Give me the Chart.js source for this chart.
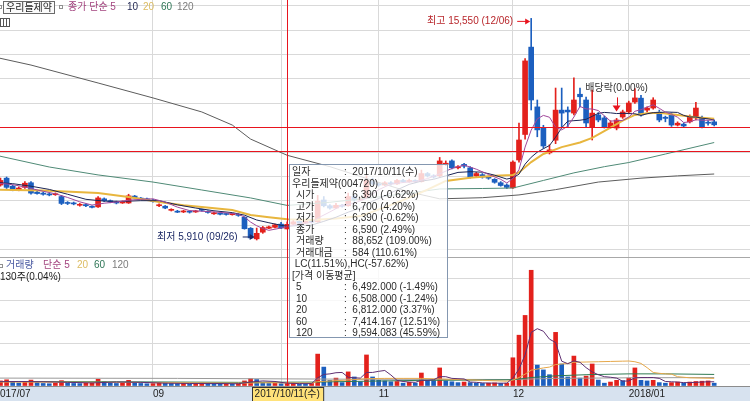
<!DOCTYPE html>
<html lang="ko">
<head>
<meta charset="utf-8">
<title>우리들제약 일봉</title>
<script src="https://cdn.jsdelivr.net/npm/chart.js@4.4.1/dist/chart.umd.min.js"></script>
<style>
  html, body { margin: 0; padding: 0; background: #fff; }
  #wrap { position: relative; width: 750px; height: 401px; overflow: hidden;
          font-family: 'Liberation Sans', 'Noto Sans CJK KR', sans-serif; font-size: 10px; }
  canvas { position: absolute; left: 0; }
  #priceChart { top: 0; }
  #volChart { top: 257px; }
  .lab { position: absolute; white-space: nowrap; line-height: 12px; }
  .sq { position: absolute; width: 2px; height: 2px; border: 1px solid #909090; background: #fff; }
  #name { position: absolute; left: 3px; top: 1px; height: 11px; line-height: 11px; padding: 0 2px;
          border: 1px solid #6a6a6a; color: #222; background: #fafafa; }
  #gridIcon { position: absolute; left: 0; top: 18px; width: 8px; height: 7px; border: 1px solid #555;
          background: repeating-linear-gradient(90deg, #fff 0, #fff 2px, #555 2px, #555 3px); }
  #tip { position: absolute; left: 289px; top: 164px; width: 159px; height: 174px; box-sizing: border-box;
         border: 1px solid #8497b0; background: rgba(255,255,255,0.8); color: #2b2b2b;
         padding: 1px 0 0 2px; line-height: 11.5px; white-space: nowrap; }
  #tip span { display: inline-block; width: 52px; }
  #tip span.in { width: 48px; padding-left: 4px; }
</style>
</head>
<body>
<div id="wrap">
  <canvas id="priceChart" width="750" height="257"></canvas>
  <canvas id="volChart" width="750" height="144"></canvas>

  <div class="sq" style="left:-2px;top:5px"></div>
  <div id="name">우리들제약</div>
  <div class="sq" style="left:59px;top:5px"></div>
  <div class="lab" style="left:68px;top:1px;color:#a3447f">종가 단순 5</div>
  <div class="lab" style="left:127px;top:1px;color:#1f2550">10</div>
  <div class="lab" style="left:143px;top:1px;color:#dcbc62">20</div>
  <div class="lab" style="left:161px;top:1px;color:#2e7656">60</div>
  <div class="lab" style="left:177px;top:1px;color:#7c7c7c">120</div>
  <div id="gridIcon"></div>

  <div class="sq" style="left:-1px;top:264px"></div>
  <div class="lab" style="left:6px;top:259px;color:#4858a0">거래량</div>
  <div class="lab" style="left:43px;top:259px;color:#a3447f">단순 5</div>
  <div class="lab" style="left:77px;top:259px;color:#dcbc62">20</div>
  <div class="lab" style="left:94px;top:259px;color:#2e7656">60</div>
  <div class="lab" style="left:112px;top:259px;color:#7c7c7c">120</div>
  <div class="lab" style="left:0;top:271px;color:#222">130주(0.04%)</div>

  <div id="tip">
    <div><span>일자</span>:&nbsp; 2017/10/11(수)</div>
    <div>우리들제약(004720)</div>
    <div><span class="in">시가</span>:&nbsp; 6,390 (-0.62%)</div>
    <div><span class="in">고가</span>:&nbsp; 6,700 (4.20%)</div>
    <div><span class="in">저가</span>:&nbsp; 6,390 (-0.62%)</div>
    <div><span class="in">종가</span>:&nbsp; 6,590 (2.49%)</div>
    <div><span class="in">거래량</span>:&nbsp; 88,652 (109.00%)</div>
    <div><span class="in">거래대금</span>:&nbsp; 584 (110.61%)</div>
    <div>&nbsp;LC(11.51%),HC(-57.62%)</div>
    <div>[가격 이동평균]</div>
    <div><span class="in">5</span>:&nbsp; 6,492.000 (-1.49%)</div>
    <div><span class="in">10</span>:&nbsp; 6,508.000 (-1.24%)</div>
    <div><span class="in">20</span>:&nbsp; 6,812.000 (3.37%)</div>
    <div><span class="in">60</span>:&nbsp; 7,414.167 (12.51%)</div>
    <div><span class="in">120</span>:&nbsp; 9,594.083 (45.59%)</div>
  </div>
</div>

<script>
// trading days shown (KRX calendar)
var months = ['2017/07', '2017/08', '2017/09', '2017/10', '2017/11', '2017/12', '2018/01']
var julDays = [26, 27, 28, 31]
var augDays = [1, 2, 3, 4, 7, 8, 9, 10, 11, 14, 16, 17, 18, 21, 22, 23, 24, 25, 28, 29, 30, 31]
var sepDays = [1, 4, 5, 6, 7, 8, 11, 12, 13, 14, 15, 18, 19, 20, 21, 22, 25, 26, 27, 28, 29]
var octDays = [10, 11, 12, 13, 16, 17, 18, 19, 20, 23, 24, 25, 26, 27, 30, 31]
var novDays = [1, 2, 3, 6, 7, 8, 9, 10, 13, 14, 15, 16, 17, 20, 21, 22, 23, 24, 27, 28, 29, 30]
var decDays = [1, 4, 5, 6, 7, 8, 11, 12, 13, 14, 15, 18, 19, 20, 21, 22, 26, 27, 28]
var janDays = [2, 3, 4, 5, 8, 9, 10, 11, 12, 15, 16, 17, 18, 19, 22]

var opens = [8350, 8300, 8600, 8250, 8100, 8200, 8400, 7990, 7950, 7900,
    7880, 7800, 7540, 7520, 7420, 7450, 7380, 7350, 7700, 7620,
    7560, 7520, 7520, 7820, 7720, 7700, 7650, 7400, 7380, 7200,
    7160, 7130, 7150, 7130, 7220, 7160, 7050, 7060, 7040, 7010,
    7020, 6900, 6420, 5960, 6250, 6420, 6460, 6600, 6390, 6600,
    6720, 6650, 6720, 6700, 7650, 7400, 7300, 7420, 7400, 7800,
    7650, 7750, 8500, 8350, 8300, 8400, 8350, 8500, 8450, 8500,
    8450, 8800, 8700, 8700, 9200, 9350, 9050, 9200, 9050, 8700,
    8750, 8650, 8550, 8400, 8300, 8180, 9390, 10500, 14300, 11700,
    10780, 9700, 10250, 11560, 11560, 11430, 12250, 12000, 10830, 11350,
    11220, 10830, 10780, 11260, 11480, 11910, 12080, 11560, 11650, 11470,
    11250, 11350, 10910, 10950, 11050, 11220, 11220, 11000, 11050]
var highs = [8450, 8600, 8650, 8300, 8220, 8450, 8450, 8050, 8000, 7950,
    7960, 7850, 7580, 7560, 7500, 7480, 7400, 7800, 7740, 7650,
    7600, 7610, 7900, 7850, 7760, 7730, 7680, 7480, 7410, 7270,
    7200, 7200, 7180, 7200, 7250, 7180, 7120, 7090, 7070, 7070,
    7050, 6920, 6450, 6430, 6500, 6520, 6600, 6680, 6700, 6780,
    6760, 6780, 6750, 7850, 7800, 7450, 7500, 7460, 7950, 7850,
    7750, 8700, 8600, 8400, 8450, 8450, 8550, 8550, 8560, 8530,
    8950, 8850, 8750, 9500, 9350, 9400, 9150, 9250, 9100, 8850,
    8800, 8700, 8580, 8450, 8350, 9350, 11000, 13800, 15550, 12000,
    10900, 10050, 12520, 12520, 11700, 12960, 12520, 12130, 12430, 11450,
    11300, 11100, 11200, 11560, 11950, 12500, 12200, 11700, 12100, 11560,
    11300, 11450, 11050, 11000, 11350, 11900, 11300, 11100, 11130]
var lows = [8250, 8250, 8150, 8050, 8050, 8150, 7900, 7900, 7860, 7830,
    7850, 7450, 7450, 7440, 7380, 7360, 7300, 7330, 7580, 7530,
    7480, 7500, 7500, 7700, 7660, 7620, 7560, 7360, 7270, 7170,
    7100, 7100, 7080, 7110, 7160, 7080, 7020, 7000, 6990, 6990,
    6940, 6380, 5980, 5910, 6200, 6400, 6430, 6400, 6390, 6550,
    6600, 6620, 6640, 6680, 7350, 7250, 7280, 7340, 7380, 7600,
    7620, 7700, 8300, 8250, 8280, 8300, 8330, 8400, 8420, 8400,
    8430, 8650, 8600, 8650, 9150, 9000, 9000, 9050, 8600, 8650,
    8600, 8550, 8380, 8250, 8150, 8150, 9300, 10300, 11565, 10400,
    9900, 9650, 10100, 10820, 10830, 11350, 11700, 10830, 10260, 11050,
    10780, 10780, 10700, 11200, 11400, 11850, 11300, 11480, 11600, 11050,
    11050, 10850, 10870, 10800, 11000, 11130, 10780, 10900, 10870]
var closes = [8300, 8500, 8200, 8080, 8170, 8380, 7950, 7930, 7900, 7870,
    7920, 7500, 7500, 7480, 7460, 7400, 7330, 7740, 7620, 7560,
    7520, 7570, 7830, 7740, 7690, 7650, 7600, 7440, 7300, 7230,
    7120, 7170, 7120, 7160, 7200, 7110, 7080, 7030, 7020, 7040,
    6980, 6400, 6000, 6200, 6450, 6480, 6570, 6430, 6590, 6700,
    6650, 6720, 6680, 7600, 7400, 7300, 7420, 7380, 7800, 7650,
    7700, 8500, 8350, 8300, 8400, 8350, 8500, 8450, 8500, 8450,
    8800, 8700, 8650, 9350, 9250, 9050, 9100, 9120, 8650, 8800,
    8650, 8600, 8420, 8280, 8200, 9300, 10260, 13700, 12000, 10700,
    10000, 9830, 11560, 11430, 11480, 12000, 12140, 11000, 11430, 11130,
    10830, 11000, 11130, 11480, 11870, 12090, 11350, 11650, 12000, 11130,
    11200, 10910, 10990, 10870, 11260, 11650, 10830, 10990, 10920]
var volumes = [150000, 180000, 220000, 140000, 110000, 160000, 210000, 120000, 90000, 80000,
    100000, 190000, 120000, 90000, 85000, 95000, 110000, 240000, 150000, 100000,
    90000, 95000, 200000, 130000, 90000, 80000, 85000, 120000, 110000, 90000,
    85000, 95000, 80000, 90000, 100000, 85000, 80000, 70000, 75000, 70000,
    90000, 180000, 260000, 230000, 120000, 90000, 100000, 81332, 88652, 100000,
    75000, 70000, 90000, 1130000, 670000, 200000, 280000, 120000, 500000, 320000,
    150000, 1100000, 320000, 200000, 180000, 150000, 160000, 100000, 130000, 100000,
    460000, 200000, 190000, 640000, 180000, 150000, 120000, 140000, 120000, 100000,
    90000, 100000, 110000, 90000, 100000, 1000000, 1800000, 2500000, 4100000, 740000,
    570000, 400000, 1900000, 780000, 320000, 1060000, 280000, 350000, 780000, 210000,
    100000, 140000, 200000, 190000, 280000, 640000, 200000, 180000, 200000, 120000,
    100000, 120000, 140000, 100000, 140000, 160000, 170000, 180000, 100000]

// moving averages as [day index, value]
var ma5 = [[0, 8380], [2, 8350], [4, 8270], [6, 8150], [8, 8030], [10, 7920], [12, 7760], [14, 7570],
    [16, 7430], [18, 7510], [20, 7560], [22, 7640], [24, 7680], [26, 7700], [28, 7560], [30, 7340],
    [32, 7190], [34, 7160], [36, 7130], [38, 7090], [40, 7030], [41, 6910], [42, 6690], [43, 6530],
    [44, 6410], [45, 6330], [46, 6380], [47, 6430], [48, 6492], [50, 6620], [52, 6670], [53, 6860],
    [55, 7130], [57, 7420], [59, 7510], [61, 7720], [63, 8100], [65, 8340], [67, 8410], [69, 8450],
    [71, 8580], [73, 8790], [75, 9020], [77, 9170], [79, 8990], [81, 8760], [83, 8550], [84, 8390],
    [85, 8580], [86, 8970], [87, 9950], [88, 10690], [89, 11180], [90, 11330], [91, 11250], [92, 10820],
    [93, 10700], [94, 10860], [95, 11260], [96, 11720], [97, 11610], [98, 11610], [99, 11540], [100, 11310],
    [101, 11080], [102, 11100], [103, 11110], [104, 11260], [105, 11510], [106, 11580], [107, 11690],
    [108, 11790], [109, 11640], [110, 11470], [111, 11380], [112, 11250], [113, 11020], [114, 11050],
    [115, 11140], [116, 11120], [117, 11120], [118, 11130]]
var ma10 = [[0, 8420], [3, 8360], [6, 8250], [9, 8110], [12, 7900], [15, 7680], [18, 7600], [21, 7590],
    [24, 7620], [27, 7620], [30, 7440], [33, 7300], [36, 7180], [39, 7100], [41, 6990], [43, 6780],
    [45, 6660], [47, 6550], [48, 6508], [50, 6540], [52, 6560], [54, 6720], [56, 6900], [58, 7120],
    [60, 7300], [62, 7600], [64, 7830], [66, 8090], [68, 8330], [70, 8470], [72, 8550], [74, 8700],
    [76, 8850], [78, 8880], [80, 8860], [82, 8730], [84, 8560], [85, 8620], [86, 8770], [87, 9210],
    [88, 9510], [89, 9730], [90, 9880], [91, 10020], [92, 10380], [93, 10790], [94, 11080], [95, 11100],
    [96, 11120], [97, 11160], [98, 11290], [99, 11420], [100, 11460], [101, 11440], [102, 11410],
    [103, 11420], [104, 11410], [105, 11400], [106, 11330], [107, 11400], [108, 11450], [109, 11450],
    [110, 11480], [111, 11470], [112, 11460], [113, 11330], [114, 11260], [115, 11260], [116, 11210],
    [117, 11180], [118, 11130]]
var ma20 = [[0, 8100], [8, 8060], [17, 7950], [22, 7780], [27, 7560], [31, 7420], [34, 7340], [39, 7210],
    [42, 7000], [45, 6900], [48, 6812], [52, 6780], [56, 6850], [60, 6950], [64, 7330], [68, 7750],
    [71, 8100], [74, 8480], [78, 8620], [82, 8700], [85, 8740], [86, 8850], [88, 9300], [90, 9650],
    [93, 9950], [96, 10150], [98, 10350], [101, 10800], [103, 11100], [105, 11350], [107, 11420],
    [109, 11440], [112, 11350], [115, 11250], [118, 11180]]
var ma60 = [[0, 9610], [9, 9085], [17, 8740], [26, 8430], [34, 8085], [42, 7740], [48, 7414.167],
    [55, 7550], [62, 7750], [68, 7950], [73, 8130], [80, 8150], [85, 8170], [90, 8500], [95, 8830],
    [100, 9100], [104, 9280], [110, 9650], [118, 10150]]
var ma120 = [[0, 13870], [6, 13520], [17, 12740], [26, 12090], [34, 11480], [39, 10910], [42, 10300],
    [48, 9594.083], [55, 9100], [62, 8500], [68, 8000], [73, 7700], [80, 7750], [86, 7870], [92, 8100],
    [99, 8430], [106, 8600], [112, 8700], [118, 8780]]

var vma5 = [[0, 150000], [4, 160000], [8, 150000], [12, 130000], [16, 110000], [20, 140000], [24, 130000],
    [28, 100000], [32, 90000], [36, 90000], [40, 80000], [42, 140000], [44, 180000], [46, 160000],
    [48, 100000], [50, 85000], [52, 85000], [53, 290000], [54, 410000], [55, 430000], [56, 470000],
    [57, 480000], [58, 310000], [59, 290000], [60, 280000], [61, 480000], [62, 480000], [63, 520000],
    [64, 550000], [65, 390000], [66, 200000], [67, 160000], [68, 140000], [69, 130000], [70, 200000],
    [71, 200000], [72, 220000], [73, 330000], [74, 330000], [75, 270000], [76, 260000], [77, 250000],
    [78, 140000], [79, 130000], [80, 110000], [82, 100000], [84, 100000], [85, 280000], [86, 600000],
    [87, 1100000], [88, 1900000], [89, 2030000], [90, 1940000], [91, 1660000], [92, 1540000],
    [93, 880000], [94, 790000], [95, 890000], [96, 840000], [97, 650000], [98, 500000], [99, 400000],
    [100, 330000], [101, 310000], [102, 280000], [103, 170000], [104, 180000], [105, 290000],
    [106, 300000], [107, 300000], [108, 300000], [109, 270000], [110, 160000], [111, 150000],
    [112, 140000], [113, 120000], [114, 120000], [115, 130000], [116, 140000], [117, 150000], [118, 150000]]
var vma20 = [[0, 140000], [10, 135000], [20, 130000], [30, 115000], [40, 100000], [45, 115000],
    [48, 110000], [52, 105000], [53, 155000], [56, 190000], [58, 210000], [61, 260000], [64, 270000],
    [67, 270000], [70, 270000], [73, 250000], [76, 230000], [80, 200000], [84, 170000], [85, 210000],
    [86, 300000], [87, 420000], [88, 560000], [89, 600000], [90, 640000], [91, 670000], [92, 760000],
    [94, 800000], [95, 840000], [97, 850000], [99, 860000], [101, 870000], [103, 880000], [104, 885000],
    [105, 860000], [106, 800000], [107, 650000], [108, 480000], [109, 450000], [110, 430000],
    [111, 420000], [112, 330000], [114, 290000], [116, 280000], [118, 270000]]
var vma60 = [[0, 160000], [20, 150000], [40, 130000], [53, 140000], [61, 170000], [70, 200000],
    [80, 210000], [85, 220000], [88, 300000], [92, 360000], [97, 400000], [104, 430000], [110, 430000],
    [118, 410000]]
var vma120 = [[0, 280000], [30, 270000], [60, 240000], [85, 230000], [92, 270000], [104, 290000],
    [118, 300000]]

// axis labels and marked days
var tickDates = ['2017/07/26', '2017/09/01', '2017/10/10', '2017/11/01', '2017/12/01', '2018/01/02']
var tickLabels = ['2017/07', '09', '10', '11', '12', '2018/01']
var cursorDate = '2017/10/11'
var cursorLabel = '2017/10/11(수)'
var cursorPrice = 9780
var lastLinePrice = 10830
var highDate = '2017/12/06', highPrice = 15550
var lowDate = '2017/09/26', lowPrice = 5910
var exDivDate = '2017/12/27'

var dates = []
var monthDays = [julDays, augDays, sepDays, octDays, novDays, decDays, janDays]
months.forEach(function (m, k) {
    monthDays[k].forEach(function (d) {
        dates.push(m + '/' + (d < 10 ? '0' + d : d))
    })
})
var tickIdx = tickDates.map(function (d) { return dates.indexOf(d) })

// view window (scrolled chart) and grid layout
var xMin = 0.92, xMax = 123.87
var priceMin = 5170, priceMax = 16350
var gridLow = 5492, gridStep = 1061.4
var volMax = 4570000

var upColor = '#e3211c'
var downColor = '#1c5fbf'
var markRed = '#e8141e'
var gridColor = '#d9d9d9'
var fontFamily = "'Liberation Sans', 'Noto Sans CJK KR', sans-serif"
Chart.defaults.font.family = fontFamily

var candleColors = closes.map(function (c, i) { return c >= opens[i] ? upColor : downColor })
var volColors = volumes.map(function (v, i) { return i == 0 || v >= volumes[i - 1] ? upColor : downColor })

function pts(list) {
    return list.map(function (p) { return { x: p[0], y: p[1] } })
}

function maLine(list, color, width) {
    return {
        type: 'line', data: pts(list), borderColor: color, borderWidth: width,
        pointRadius: 0, tension: 0, fill: false, order: 0
    }
}

function xScale(showLabels) {
    return {
        type: 'linear', min: xMin, max: xMax, offset: false,
        afterBuildTicks: function (s) {
            s.ticks = tickIdx.map(function (v) { return { value: v } })
        },
        afterFit: function (s) {
            s.height = showLabels ? 15 : 0
            s.paddingLeft = 0
            s.paddingRight = 0
        },
        ticks: {
            display: showLabels, autoSkip: false, maxRotation: 0, minRotation: 0,
            align: 'start', padding: 2, color: '#222', font: { size: 10 },
            callback: function (v, i) { return tickLabels[i] }
        },
        grid: { color: gridColor, drawTicks: false, offset: false },
        border: { display: showLabels, color: '#8c8c8c' }
    }
}

function redLine(ctx, x1, y1, x2, y2) {
    ctx.save()
    ctx.strokeStyle = markRed
    ctx.lineWidth = 1
    ctx.beginPath()
    ctx.moveTo(x1, y1)
    ctx.lineTo(x2, y2)
    ctx.stroke()
    ctx.restore()
}

function drawCursorLine(chart) {
    var x = Math.round(chart.scales.x.getPixelForValue(dates.indexOf(cursorDate))) + 0.5
    redLine(chart.ctx, x, 0, x, chart.chartArea.bottom)
}

function arrowRight(ctx, x1, x2, y, color) {
    ctx.strokeStyle = color
    ctx.fillStyle = color
    ctx.beginPath()
    ctx.moveTo(x1, y)
    ctx.lineTo(x2 - 3, y)
    ctx.stroke()
    ctx.beginPath()
    ctx.moveTo(x2, y)
    ctx.lineTo(x2 - 5, y - 3)
    ctx.lineTo(x2 - 5, y + 3)
    ctx.closePath()
    ctx.fill()
}

var priceMarks = {
    id: 'priceMarks',
    afterDatasetsDraw: function (chart) {
        var ctx = chart.ctx
        var xs = chart.scales.x, ys = chart.scales.y
        var area = chart.chartArea

        var levels = [lastLinePrice, cursorPrice]
        levels.forEach(function (p) {
            var y = Math.round(ys.getPixelForValue(p)) + 0.5
            redLine(ctx, area.left, y, area.right, y)
        })
        drawCursorLine(chart)

        ctx.save()
        ctx.font = '10px ' + fontFamily
        ctx.textBaseline = 'middle'
        ctx.lineWidth = 1

        // highest price note
        var hx = xs.getPixelForValue(dates.indexOf(highDate))
        var hy = ys.getPixelForValue(highPrice) + 3
        ctx.fillStyle = '#b8262b'
        ctx.textAlign = 'right'
        ctx.fillText('최고 15,550 (12/06)', hx - 18, hy)
        arrowRight(ctx, hx - 14, hx - 1, hy, markRed)

        // lowest price note
        var lx = xs.getPixelForValue(dates.indexOf(lowDate))
        var ly = ys.getPixelForValue(lowPrice) - 3
        ctx.fillStyle = '#1d2a66'
        ctx.fillText('최저 5,910 (09/26)', lx - 19, ly)
        arrowRight(ctx, lx - 14, lx - 2, ly, '#1d2a66')

        // ex-dividend mark
        var ei = dates.indexOf(exDivDate)
        var ex = xs.getPixelForValue(ei)
        var ey = ys.getPixelForValue(highs[ei])
        ctx.fillStyle = '#333'
        ctx.textAlign = 'center'
        ctx.fillText('배당락(0.00%)', ex, ey - 30)
        ctx.strokeStyle = markRed
        ctx.fillStyle = markRed
        ctx.beginPath()
        ctx.moveTo(Math.round(ex) + 0.5, ey - 21)
        ctx.lineTo(Math.round(ex) + 0.5, ey - 12)
        ctx.stroke()
        ctx.beginPath()
        ctx.moveTo(ex - 4, ey - 13)
        ctx.lineTo(ex + 4, ey - 13)
        ctx.lineTo(ex, ey - 7)
        ctx.closePath()
        ctx.fill()
        ctx.restore()
    }
}

var volMarks = {
    id: 'volMarks',
    beforeDraw: function (chart) {
        var ctx = chart.ctx, a = chart.chartArea
        ctx.save()
        ctx.fillStyle = '#d7e2ef'
        ctx.fillRect(0, a.bottom, chart.width, chart.height - a.bottom)
        ctx.restore()
    },
    afterDatasetsDraw: drawCursorLine,
    afterDraw: function (chart) {
        var ctx = chart.ctx, a = chart.chartArea
        var x = chart.scales.x.getPixelForValue(dates.indexOf(cursorDate))
        ctx.save()
        ctx.font = '10px ' + fontFamily
        var w = ctx.measureText(cursorLabel).width + 6
        var left = Math.round(x - w / 2) + 0.5
        ctx.fillStyle = '#ffe27a'
        ctx.fillRect(left, a.bottom + 1, w, chart.height - a.bottom)
        ctx.strokeStyle = '#333'
        ctx.strokeRect(left, a.bottom + 1.5, w, chart.height - a.bottom)
        ctx.fillStyle = '#222'
        ctx.textAlign = 'center'
        ctx.textBaseline = 'middle'
        ctx.fillText(cursorLabel, x, a.bottom + 8)
        ctx.restore()
    }
}

var priceChart = new Chart(document.getElementById('priceChart').getContext('2d'), {
    type: 'bar',
    data: {
        datasets: [
            maLine(ma5, '#a0479a', 1),
            maLine(ma10, '#1c2556', 1),
            maLine(ma20, '#e8b63e', 2),
            maLine(ma60, '#4f8a76', 1),
            maLine(ma120, '#5c5c5c', 1),
            {
                data: dates.map(function (d, i) { return { x: i, y: [lows[i], highs[i]] } }),
                backgroundColor: candleColors, barThickness: 1, grouped: false, order: 2
            },
            {
                data: dates.map(function (d, i) { return { x: i, y: [opens[i], closes[i]] } }),
                backgroundColor: candleColors, barThickness: 5, minBarLength: 1, grouped: false, order: 1
            }
        ]
    },
    options: {
        responsive: false, animation: false, events: [], devicePixelRatio: 1,
        layout: { padding: 0 },
        plugins: { legend: { display: false }, tooltip: { enabled: false } },
        scales: {
            x: xScale(false),
            y: {
                position: 'right', min: priceMin, max: priceMax,
                afterBuildTicks: function (s) {
                    var t = []
                    for (var k = 0; k <= 10; k++) t.push({ value: gridLow + k * gridStep })
                    s.ticks = t
                },
                afterFit: function (s) { s.width = 0 },
                ticks: { display: false },
                grid: { color: gridColor, drawTicks: false },
                border: { display: false }
            }
        }
    },
    plugins: [priceMarks]
})

var volChart = new Chart(document.getElementById('volChart').getContext('2d'), {
    type: 'bar',
    data: {
        datasets: [
            maLine(vma5, '#5e2f72', 1),
            maLine(vma20, '#e6a84a', 1),
            maLine(vma60, '#2f7a52', 1),
            maLine(vma120, '#9a9a9a', 1),
            {
                data: dates.map(function (d, i) { return { x: i, y: volumes[i] } }),
                backgroundColor: volColors, barThickness: 4, grouped: false, order: 1
            }
        ]
    },
    options: {
        responsive: false, animation: false, events: [], devicePixelRatio: 1,
        layout: { padding: 0 },
        plugins: { legend: { display: false }, tooltip: { enabled: false } },
        scales: {
            x: xScale(true),
            y: {
                position: 'right', min: 0, max: volMax,
                ticks: { display: false, stepSize: 800000 },
                afterFit: function (s) { s.width = 0 },
                grid: {
                    drawTicks: false,
                    // panel separator at the top edge is darker than the grid
                    color: function (c) { return c.tick && c.tick.value >= volMax ? '#a8a8a8' : gridColor }
                },
                border: { display: false }
            }
        }
    },
    plugins: [volMarks]
})
</script>
</body>
</html>
